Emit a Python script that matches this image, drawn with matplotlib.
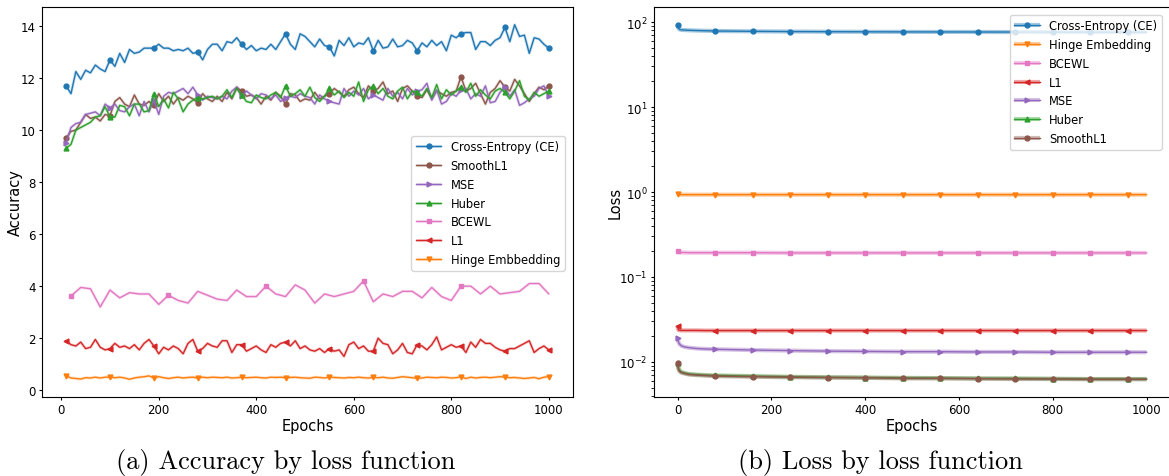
import matplotlib
matplotlib.use("Agg")
import matplotlib.pyplot as plt
import numpy as np

# ---------------- accuracy per epoch (sampled every 10 epochs) ----------------
acc_epochs = list(range(10, 1001, 10))
bcewl_epochs = list(range(20, 1001, 20))

acc_ce = [11.7, 11.4, 12.25, 11.95, 12.3, 12.2, 12.5, 12.35, 12.25, 12.7,
          12.45, 12.95, 12.6, 13.1, 12.95, 13.0, 13.15, 13.15, 13.15, 13.3,
          13.15, 13.15, 13.05, 13.1, 13.05, 13.15, 12.95, 13.0, 12.7, 13.1,
          13.3, 13.3, 13.05, 13.4, 13.35, 13.55, 13.3, 13.1, 13.25, 13.05,
          13.15, 13.1, 13.3, 13.1, 13.4, 13.7, 13.3, 13.1, 13.7, 13.6,
          13.4, 13.2, 13.5, 13.25, 13.2, 12.85, 13.45, 13.25, 13.55, 13.2,
          13.35, 13.3, 13.55, 13.05, 13.45, 13.15, 13.2, 13.5, 13.2, 13.25,
          13.45, 13.35, 13.05, 13.35, 13.2, 13.45, 13.25, 13.4, 13.05, 13.65,
          13.55, 13.7, 13.75, 13.75, 13.1, 13.4, 13.4, 13.25, 13.45, 13.55,
          13.95, 13.4, 14.05, 13.6, 13.65, 12.95, 13.55, 13.5, 13.3, 13.15]

acc_smoothl1 = [9.7, 9.95, 10.0, 10.3, 10.6, 10.45, 10.5, 10.35, 10.6, 10.55,
                11.1, 11.25, 11.0, 10.9, 11.35, 11.0, 10.95, 11.1, 10.95, 11.4,
                11.1, 11.3, 11.0, 11.25, 11.15, 11.3, 11.2, 11.05, 11.4, 11.2,
                11.1, 11.3, 11.1, 11.45, 11.2, 11.65, 11.5, 11.3, 11.35, 11.25,
                11.0, 11.3, 11.15, 11.45, 11.3, 11.0, 11.4, 11.35, 11.1, 11.2,
                11.15, 11.45, 11.2, 11.3, 11.4, 11.6, 11.45, 11.3, 11.55, 11.65,
                11.4, 11.25, 11.7, 11.5, 11.6, 11.85, 11.4, 11.5, 11.1, 11.6,
                11.7, 11.5, 11.3, 11.25, 11.55, 11.2, 11.5, 11.4, 11.3, 11.45,
                11.5, 12.05, 11.5, 11.6, 11.8, 11.4, 11.0, 11.45, 11.6, 11.9,
                11.65, 11.5, 11.95, 11.7, 11.4, 11.1, 11.4, 11.65, 11.55, 11.7]

acc_mse = [9.5, 10.1, 10.25, 10.3, 10.6, 10.65, 10.7, 10.55, 11.0, 10.85,
           11.0, 10.75, 10.7, 10.9, 11.0, 10.55, 11.1, 10.7, 11.15, 10.6,
           11.3, 11.45, 11.4, 11.5, 11.6, 11.4, 11.65, 11.35, 11.15, 11.3,
           11.25, 11.2, 11.3, 11.2, 11.5, 11.65, 11.3, 11.5, 11.35, 11.2,
           11.4, 11.35, 11.2, 11.35, 11.1, 11.25, 11.3, 11.25, 11.4, 11.3,
           11.25, 11.0, 11.35, 11.2, 11.1, 11.05, 11.0, 11.6, 11.3, 11.5,
           11.35, 11.6, 11.2, 11.35, 11.25, 11.15, 11.6, 11.3, 11.45, 11.2,
           11.6, 11.35, 11.5, 11.55, 11.8, 11.15, 11.55, 11.0, 11.1, 11.4,
           11.3, 11.55, 11.6, 11.2, 11.4, 11.3, 11.7, 11.05, 11.1, 11.45,
           11.65, 11.3, 11.55, 10.95, 11.05, 11.2, 11.3, 11.6, 11.7, 11.3]

acc_huber = [9.3, 9.45, 10.0, 10.1, 10.2, 10.3, 10.5, 10.55, 10.9, 10.5,
             10.5, 10.95, 10.9, 10.55, 11.0, 11.0, 10.7, 10.75, 11.4, 10.9,
             11.2, 10.85, 11.45, 11.2, 10.7, 11.0, 11.15, 11.25, 11.2, 11.25,
             11.3, 11.2, 11.3, 11.55, 11.25, 11.6, 11.35, 11.1, 11.05, 11.35,
             11.25, 11.2, 11.35, 11.45, 11.25, 11.7, 11.3, 11.4, 11.55, 11.3,
             11.65, 11.25, 11.1, 11.3, 11.6, 11.35, 11.5, 11.25, 11.45, 11.3,
             11.85, 11.1, 11.55, 11.7, 11.4, 11.6, 11.3, 11.2, 11.5, 11.65,
             11.2, 11.5, 11.45, 11.3, 11.6, 11.25, 11.75, 11.2, 11.55, 11.35,
             11.5, 11.65, 11.45, 11.8, 11.3, 11.55, 11.35, 11.2, 11.5, 11.6,
             11.45, 11.2, 11.5, 11.9, 11.3, 11.15, 11.45, 11.3, 11.4, 11.5]

acc_bcewl = [3.62, 3.95, 3.9, 3.2, 3.85, 3.55, 3.75, 3.7, 3.7, 3.3,
             3.65, 3.45, 3.35, 3.8, 3.65, 3.5, 3.45, 3.85, 3.6, 3.6,
             4.0, 3.7, 3.6, 4.05, 3.85, 3.35, 3.7, 3.6, 3.7, 3.8,
             4.2, 3.4, 3.7, 3.6, 3.8, 3.8, 3.55, 3.95, 3.6, 3.45,
             4.0, 4.0, 3.7, 4.0, 3.7, 3.75, 3.8, 4.1, 4.1, 3.7]

acc_l1 = [1.9, 1.75, 1.7, 1.85, 1.6, 1.65, 1.95, 1.65, 1.55, 1.6,
          1.8, 1.65, 1.7, 1.6, 1.75, 1.55, 1.8, 1.95, 1.7, 1.4,
          1.65, 1.55, 1.7, 1.6, 1.4, 1.8, 1.95, 1.5, 1.6, 1.8,
          1.7, 1.65, 1.9, 1.9, 1.45, 1.75, 1.75, 1.5, 1.6, 1.7,
          1.55, 1.45, 1.75, 1.65, 1.8, 1.85, 1.7, 1.9, 1.6, 1.7,
          1.55, 1.5, 1.6, 1.45, 1.6, 1.5, 1.55, 1.3, 1.75, 1.85,
          1.6, 1.7, 1.5, 1.5, 2.0, 1.8, 1.75, 1.4, 1.55, 1.8,
          1.45, 1.4, 1.75, 1.7, 1.55, 1.75, 2.05, 1.55, 1.65, 1.75,
          1.65, 1.7, 1.45, 1.85, 1.65, 1.95, 1.8, 1.8, 1.65, 1.55,
          1.5, 1.6, 1.6, 1.7, 1.8, 1.9, 1.45, 1.6, 1.7, 1.55]

acc_hinge = [0.55, 0.47, 0.45, 0.43, 0.48, 0.47, 0.5, 0.47, 0.5, 0.5,
             0.48, 0.5, 0.47, 0.42, 0.47, 0.5, 0.52, 0.55, 0.47, 0.52,
             0.48, 0.45, 0.48, 0.5, 0.47, 0.49, 0.5, 0.47, 0.5, 0.48,
             0.5, 0.49, 0.48, 0.5, 0.47, 0.48, 0.5, 0.48, 0.49, 0.5,
             0.48, 0.47, 0.5, 0.49, 0.5, 0.48, 0.49, 0.5, 0.48, 0.47,
             0.46, 0.5, 0.49, 0.47, 0.5, 0.49, 0.48, 0.47, 0.49, 0.48,
             0.5, 0.48, 0.47, 0.49, 0.48, 0.5, 0.47, 0.46, 0.49, 0.52,
             0.5, 0.48, 0.46, 0.47, 0.5, 0.49, 0.48, 0.5, 0.49, 0.47,
             0.48, 0.52, 0.45, 0.5, 0.47, 0.49, 0.5, 0.48, 0.5, 0.52,
             0.5, 0.48, 0.49, 0.47, 0.45, 0.47, 0.49, 0.44, 0.5, 0.52]

# ---------------- training loss per epoch ----------------
loss_epochs = [0, 2, 4, 8, 15, 25, 40, 60, 80, 160, 240, 320, 400,
               480, 560, 640, 720, 800, 880, 960, 1000]

loss_ce = [93, 85, 82, 81, 80.5, 80, 79.5, 79, 78.5, 77.8, 77.3, 77, 76.8,
           76.6, 76.5, 76.4, 76.3, 76.2, 76.1, 76.0, 76.0]
loss_hinge = [0.935, 0.932, 0.931, 0.93, 0.93, 0.93, 0.93, 0.93, 0.93, 0.93,
              0.93, 0.93, 0.93, 0.93, 0.93, 0.93, 0.93, 0.93, 0.93, 0.93, 0.93]
loss_bcewl = [0.2, 0.196, 0.195, 0.194, 0.194, 0.193, 0.193, 0.193, 0.193,
              0.193, 0.192, 0.192, 0.192, 0.192, 0.192, 0.192, 0.192, 0.192,
              0.192, 0.192, 0.192]
loss_l1 = [0.0265, 0.0238, 0.0236, 0.0235, 0.0235, 0.0235, 0.0235, 0.0234,
           0.0234, 0.0234, 0.0234, 0.0234, 0.0234, 0.0234, 0.0234, 0.0234,
           0.0234, 0.0234, 0.0234, 0.0234, 0.0234]
loss_mse = [0.0192, 0.0172, 0.0163, 0.0155, 0.0150, 0.0147, 0.0144, 0.0142,
            0.0141, 0.0138, 0.0136, 0.0134, 0.0133, 0.0132, 0.0132, 0.0131,
            0.0131, 0.0130, 0.0130, 0.0130, 0.0130]
loss_huber = [0.0098, 0.0085, 0.0080, 0.0076, 0.0074, 0.0072, 0.0071, 0.0070,
              0.00695, 0.0068, 0.0067, 0.0066, 0.00655, 0.0065, 0.00645,
              0.0064, 0.0064, 0.00635, 0.0063, 0.0063, 0.0063]
loss_smoothl1 = [0.0096, 0.0083, 0.0078, 0.0075, 0.0073, 0.0071, 0.0070,
                 0.0069, 0.0068, 0.0067, 0.0066, 0.00655, 0.0065, 0.0064,
                 0.0064, 0.00635, 0.0063, 0.0063, 0.00625, 0.00625, 0.00625]

COLORS = {"ce": "#1f77b4", "hinge": "#ff7f0e", "bcewl": "#e377c2",
          "l1": "#d62728", "mse": "#9467bd", "huber": "#2ca02c",
          "smoothl1": "#8c564b"}
MARKERS = {"ce": "o", "hinge": "v", "bcewl": "s", "l1": "<", "mse": ">",
           "huber": "^", "smoothl1": "o"}

plt.rcParams["font.family"] = ["DejaVu Sans"]

fig = plt.figure(figsize=(11.69, 4.77), dpi=100)
ax_acc = fig.add_axes([0.0359, 0.1656, 0.4542, 0.8176])
ax_loss = fig.add_axes([0.5595, 0.1656, 0.4414, 0.8176])


def draw(ax, x, y, key, label, markevery, band_lw, band_alpha):
    band, = ax.plot(x, y, color=COLORS[key], lw=band_lw, alpha=band_alpha,
                    solid_capstyle="butt")
    line, = ax.plot(x, y, color=COLORS[key], lw=1.0, marker=MARKERS[key],
                    markersize=3.5, markevery=markevery)
    return (band, line), label


def style_axes(ax, ylabel):
    ax.set_xlabel("Epochs", fontsize=10.5, labelpad=1)
    ax.set_ylabel(ylabel, fontsize=10.5)
    ax.set_xticks([0, 200, 400, 600, 800, 1000])
    ax.tick_params(labelsize=8.5, length=2.5, pad=2)


# accuracy panel
acc_series = [
    (acc_epochs, acc_ce, "ce", "Cross-Entropy (CE)", 9),
    (acc_epochs, acc_smoothl1, "smoothl1", "SmoothL1", 9),
    (acc_epochs, acc_mse, "mse", "MSE", 9),
    (acc_epochs, acc_huber, "huber", "Huber", 9),
    (bcewl_epochs, acc_bcewl, "bcewl", "BCEWL", 10),
    (acc_epochs, acc_l1, "l1", "L1", 9),
    (acc_epochs, acc_hinge, "hinge", "Hinge Embbedding", 9),
]
handles, labels = [], []
for x, y, key, label, me in acc_series:
    h, l = draw(ax_acc, x, y, key, label, me, 2.2, 0.22)
    handles.append(h)
    labels.append(l)
ax_acc.legend(handles, labels, loc="center right", bbox_to_anchor=(0.995, 0.497),
              fontsize=8.3, handlelength=2.2)
style_axes(ax_acc, "Accuracy")
ax_acc.yaxis.set_label_coords(-0.036, 0.5)

# loss panel
mark_idx = [i for i, e in enumerate(loss_epochs) if e % 80 == 0]
loss_series = [
    (loss_ce, "ce", "Cross-Entropy (CE)"),
    (loss_hinge, "hinge", "Hinge Embedding"),
    (loss_bcewl, "bcewl", "BCEWL"),
    (loss_l1, "l1", "L1"),
    (loss_mse, "mse", "MSE"),
    (loss_huber, "huber", "Huber"),
    (loss_smoothl1, "smoothl1", "SmoothL1"),
]
handles, labels = [], []
for y, key, label in loss_series:
    h, l = draw(ax_loss, loss_epochs, y, key, label, mark_idx, 3.0, 0.4)
    handles.append(h)
    labels.append(l)
ax_loss.set_yscale("log")
ax_loss.legend(handles, labels, loc="upper right", bbox_to_anchor=(0.995, 0.995),
               fontsize=8.3, handlelength=2.2)
style_axes(ax_loss, "Loss")
ax_loss.yaxis.set_label_coords(-0.06, 0.5)

# sub-figure captions
fig.text(0.244, 0.031, "(a) Accuracy by loss function", family="cmr10",
         fontsize=19, ha="center", va="center")
fig.text(0.753, 0.031, "(b) Loss by loss function", family="cmr10",
         fontsize=19, ha="center", va="center")

fig.savefig("out.png", dpi=100)
